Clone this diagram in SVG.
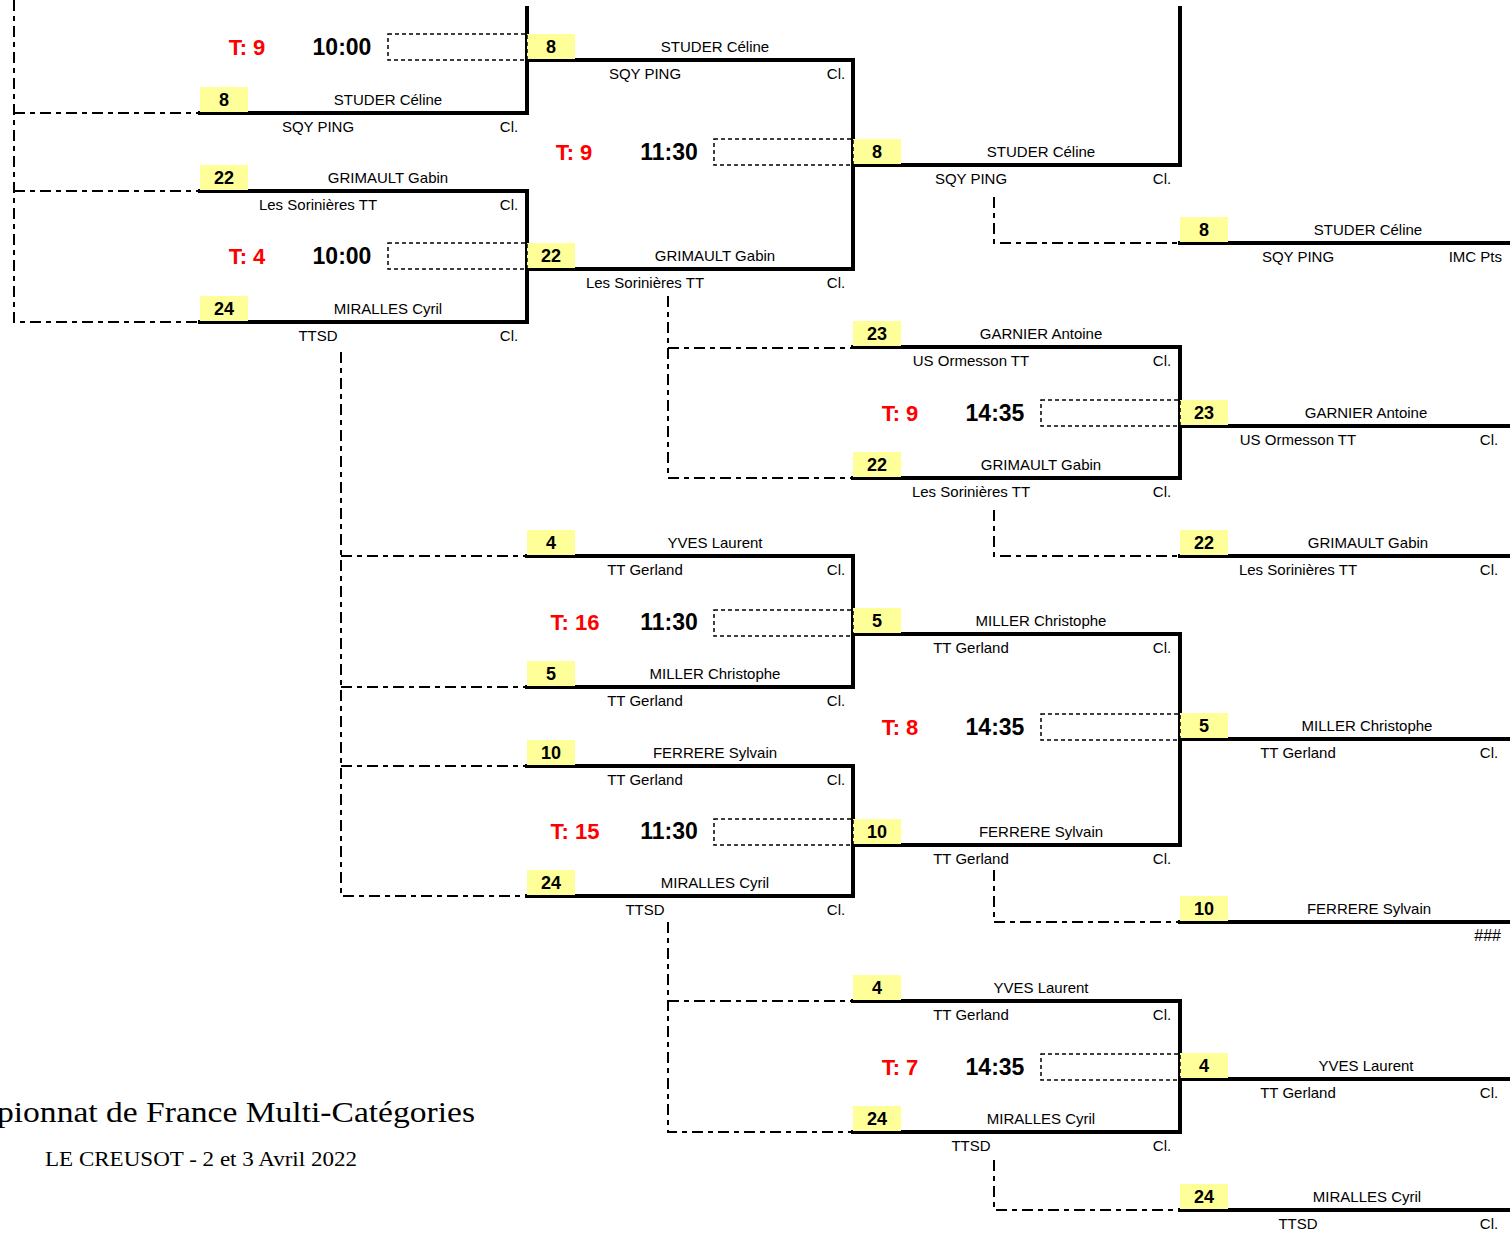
<svg xmlns="http://www.w3.org/2000/svg" width="1510" height="1233" viewBox="0 0 1510 1233">
<style>
.br{fill:none;stroke:#000;stroke-width:4;stroke-linecap:square}
.ls{fill:none;stroke:#000;stroke-width:2;stroke-dasharray:11 5 5 5}
.sb{fill:none;stroke:#000;stroke-width:1.5;stroke-dasharray:4 3}
.seedbox{fill:#FFFF99}
.seed{font-family:"Liberation Sans",Arial,sans-serif;font-weight:bold;font-size:18px;text-anchor:middle;fill:#000}
.nm{font-family:"Liberation Sans",Arial,sans-serif;font-size:15px;text-anchor:middle;fill:#000}
.tb{font-family:"Liberation Sans",Arial,sans-serif;font-weight:bold;font-size:22px;text-anchor:middle;fill:#FF0000}
.tm{font-family:"Liberation Sans",Arial,sans-serif;font-weight:bold;font-size:23px;text-anchor:middle;fill:#000}
.ttl{font-family:"Liberation Serif","Times New Roman",serif;fill:#000}
</style>
<rect width="1510" height="1233" fill="#fff"/>
<g id="connectors">
<path class="br" d="M527,8 V113 H200"/>
<path class="br" d="M200,191 H527 V322 H200"/>
<path class="br" d="M527,60 H853 V269 H527"/>
<path class="br" d="M527,556 H853 V687 H527"/>
<path class="br" d="M527,766 H853 V896 H527"/>
<path class="br" d="M1180,8 V165 H853"/>
<path class="br" d="M853,347 H1180 V478 H853"/>
<path class="br" d="M853,634 H1180 V845 H853"/>
<path class="br" d="M853,1001 H1180 V1132 H853"/>
<path class="br" d="M1180,243 H1509"/>
<path class="br" d="M1180,426 H1509"/>
<path class="br" d="M1180,556 H1509"/>
<path class="br" d="M1180,739 H1509"/>
<path class="br" d="M1180,922 H1509"/>
<path class="br" d="M1180,1079 H1509"/>
<path class="br" d="M1180,1210 H1509"/>
<path class="ls" d="M14,0 V322 H200 M14,113 H200 M14,191 H200"/>
<path class="ls" d="M341,352 V896 H527 M341,556 H527 M341,687 H527 M341,766 H527"/>
<path class="ls" d="M668,296 V478 H853 M668,348 H853"/>
<path class="ls" d="M668,922 V1132 H853 M668,1001 H853"/>
<path class="ls" d="M994,197 V243 H1180"/>
<path class="ls" d="M994,510 V556 H1180"/>
<path class="ls" d="M994,870 V922 H1180"/>
<path class="ls" d="M994,1160 V1210 H1180"/>
</g>
<g id="p1-8"><rect class="seedbox" x="200" y="87" width="48" height="25"/><text class="seed" x="224" y="106">8</text><text class="nm" x="388" y="104.5">STUDER Céline</text><text class="nm" x="318" y="131.5">SQY PING</text><text class="nm" x="509" y="131.5">Cl.</text></g>
<g id="p1-22"><rect class="seedbox" x="200" y="165" width="48" height="25"/><text class="seed" x="224" y="184">22</text><text class="nm" x="388" y="182.5">GRIMAULT Gabin</text><text class="nm" x="318" y="209.5">Les Sorinières TT</text><text class="nm" x="509" y="209.5">Cl.</text></g>
<g id="p1-24"><rect class="seedbox" x="200" y="296" width="48" height="25"/><text class="seed" x="224" y="315">24</text><text class="nm" x="388" y="313.5">MIRALLES Cyril</text><text class="nm" x="318" y="340.5">TTSD</text><text class="nm" x="509" y="340.5">Cl.</text></g>
<g id="p2-8"><rect class="seedbox" x="527" y="34" width="48" height="25"/><text class="seed" x="551" y="53">8</text><text class="nm" x="715" y="51.5">STUDER Céline</text><text class="nm" x="645" y="78.5">SQY PING</text><text class="nm" x="836" y="78.5">Cl.</text></g>
<g id="p2-22"><rect class="seedbox" x="527" y="243" width="48" height="25"/><text class="seed" x="551" y="262">22</text><text class="nm" x="715" y="260.5">GRIMAULT Gabin</text><text class="nm" x="645" y="287.5">Les Sorinières TT</text><text class="nm" x="836" y="287.5">Cl.</text></g>
<g id="p2-4"><rect class="seedbox" x="527" y="530" width="48" height="25"/><text class="seed" x="551" y="549">4</text><text class="nm" x="715" y="547.5">YVES Laurent</text><text class="nm" x="645" y="574.5">TT Gerland</text><text class="nm" x="836" y="574.5">Cl.</text></g>
<g id="p2-5"><rect class="seedbox" x="527" y="661" width="48" height="25"/><text class="seed" x="551" y="680">5</text><text class="nm" x="715" y="678.5">MILLER Christophe</text><text class="nm" x="645" y="705.5">TT Gerland</text><text class="nm" x="836" y="705.5">Cl.</text></g>
<g id="p2-10"><rect class="seedbox" x="527" y="740" width="48" height="25"/><text class="seed" x="551" y="759">10</text><text class="nm" x="715" y="757.5">FERRERE Sylvain</text><text class="nm" x="645" y="784.5">TT Gerland</text><text class="nm" x="836" y="784.5">Cl.</text></g>
<g id="p2-24"><rect class="seedbox" x="527" y="870" width="48" height="25"/><text class="seed" x="551" y="889">24</text><text class="nm" x="715" y="887.5">MIRALLES Cyril</text><text class="nm" x="645" y="914.5">TTSD</text><text class="nm" x="836" y="914.5">Cl.</text></g>
<g id="p3-8"><rect class="seedbox" x="853" y="139" width="48" height="25"/><text class="seed" x="877" y="158">8</text><text class="nm" x="1041" y="156.5">STUDER Céline</text><text class="nm" x="971" y="183.5">SQY PING</text><text class="nm" x="1162" y="183.5">Cl.</text></g>
<g id="p3-23"><rect class="seedbox" x="853" y="321" width="48" height="25"/><text class="seed" x="877" y="340">23</text><text class="nm" x="1041" y="338.5">GARNIER Antoine</text><text class="nm" x="971" y="365.5">US Ormesson TT</text><text class="nm" x="1162" y="365.5">Cl.</text></g>
<g id="p3-22"><rect class="seedbox" x="853" y="452" width="48" height="25"/><text class="seed" x="877" y="471">22</text><text class="nm" x="1041" y="469.5">GRIMAULT Gabin</text><text class="nm" x="971" y="496.5">Les Sorinières TT</text><text class="nm" x="1162" y="496.5">Cl.</text></g>
<g id="p3-5"><rect class="seedbox" x="853" y="608" width="48" height="25"/><text class="seed" x="877" y="627">5</text><text class="nm" x="1041" y="625.5">MILLER Christophe</text><text class="nm" x="971" y="652.5">TT Gerland</text><text class="nm" x="1162" y="652.5">Cl.</text></g>
<g id="p3-10"><rect class="seedbox" x="853" y="819" width="48" height="25"/><text class="seed" x="877" y="838">10</text><text class="nm" x="1041" y="836.5">FERRERE Sylvain</text><text class="nm" x="971" y="863.5">TT Gerland</text><text class="nm" x="1162" y="863.5">Cl.</text></g>
<g id="p3-4"><rect class="seedbox" x="853" y="975" width="48" height="25"/><text class="seed" x="877" y="994">4</text><text class="nm" x="1041" y="992.5">YVES Laurent</text><text class="nm" x="971" y="1019.5">TT Gerland</text><text class="nm" x="1162" y="1019.5">Cl.</text></g>
<g id="p3-24"><rect class="seedbox" x="853" y="1106" width="48" height="25"/><text class="seed" x="877" y="1125">24</text><text class="nm" x="1041" y="1123.5">MIRALLES Cyril</text><text class="nm" x="971" y="1150.5">TTSD</text><text class="nm" x="1162" y="1150.5">Cl.</text></g>
<g id="p4-8"><rect class="seedbox" x="1180" y="217" width="48" height="25"/><text class="seed" x="1204" y="236">8</text><text class="nm" x="1368" y="234.5">STUDER Céline</text><text class="nm" x="1298" y="261.5">SQY PING</text><text class="nm" x="1502" y="261.5" style="text-anchor:end">IMC Pts</text></g>
<g id="p4-23"><rect class="seedbox" x="1180" y="400" width="48" height="25"/><text class="seed" x="1204" y="419">23</text><text class="nm" x="1366" y="417.5">GARNIER Antoine</text><text class="nm" x="1298" y="444.5">US Ormesson TT</text><text class="nm" x="1489" y="444.5">Cl.</text></g>
<g id="p4-22"><rect class="seedbox" x="1180" y="530" width="48" height="25"/><text class="seed" x="1204" y="549">22</text><text class="nm" x="1368" y="547.5">GRIMAULT Gabin</text><text class="nm" x="1298" y="574.5">Les Sorinières TT</text><text class="nm" x="1489" y="574.5">Cl.</text></g>
<g id="p4-5"><rect class="seedbox" x="1180" y="713" width="48" height="25"/><text class="seed" x="1204" y="732">5</text><text class="nm" x="1367" y="730.5">MILLER Christophe</text><text class="nm" x="1298" y="757.5">TT Gerland</text><text class="nm" x="1489" y="757.5">Cl.</text></g>
<g id="p4-10"><rect class="seedbox" x="1180" y="896" width="48" height="25"/><text class="seed" x="1204" y="915">10</text><text class="nm" x="1369" y="913.5">FERRERE Sylvain</text><text class="nm" x="1501" y="940.5" style="text-anchor:end;font-size:16px">###</text></g>
<g id="p4-4"><rect class="seedbox" x="1180" y="1053" width="48" height="25"/><text class="seed" x="1204" y="1072">4</text><text class="nm" x="1366" y="1070.5">YVES Laurent</text><text class="nm" x="1298" y="1097.5">TT Gerland</text><text class="nm" x="1489" y="1097.5">Cl.</text></g>
<g id="p4-24"><rect class="seedbox" x="1180" y="1184" width="48" height="25"/><text class="seed" x="1204" y="1203">24</text><text class="nm" x="1367" y="1201.5">MIRALLES Cyril</text><text class="nm" x="1298" y="1228.5">TTSD</text><text class="nm" x="1489" y="1228.5">Cl.</text></g>
<g id="m1"><rect class="sb" x="388" y="34" width="139" height="26"/><text class="tb" x="247" y="55">T: 9</text><text class="tm" x="342" y="55">10:00</text></g>
<g id="m2"><rect class="sb" x="388" y="243" width="139" height="26"/><text class="tb" x="247" y="264">T: 4</text><text class="tm" x="342" y="264">10:00</text></g>
<g id="m3"><rect class="sb" x="714" y="139" width="139" height="26"/><text class="tb" x="574" y="160">T: 9</text><text class="tm" x="669" y="160">11:30</text></g>
<g id="m4"><rect class="sb" x="714" y="610" width="139" height="26"/><text class="tb" x="575" y="630">T: 16</text><text class="tm" x="669" y="630">11:30</text></g>
<g id="m5"><rect class="sb" x="714" y="819" width="139" height="26"/><text class="tb" x="575" y="839">T: 15</text><text class="tm" x="669" y="839">11:30</text></g>
<g id="m6"><rect class="sb" x="1041" y="400" width="139" height="26"/><text class="tb" x="900" y="421">T: 9</text><text class="tm" x="995" y="421">14:35</text></g>
<g id="m7"><rect class="sb" x="1041" y="714" width="139" height="26"/><text class="tb" x="900" y="735">T: 8</text><text class="tm" x="995" y="735">14:35</text></g>
<g id="m8"><rect class="sb" x="1041" y="1054" width="139" height="26"/><text class="tb" x="900" y="1075">T: 7</text><text class="tm" x="995" y="1075">14:35</text></g>
<g id="title">
<text class="ttl" x="-3" y="1122" font-size="29" textLength="478" lengthAdjust="spacingAndGlyphs">pionnat de France Multi-Catégories</text>
<text class="ttl" x="45" y="1166" font-size="21" textLength="312" lengthAdjust="spacingAndGlyphs">LE CREUSOT - 2 et 3 Avril 2022</text>
</g>
</svg>
